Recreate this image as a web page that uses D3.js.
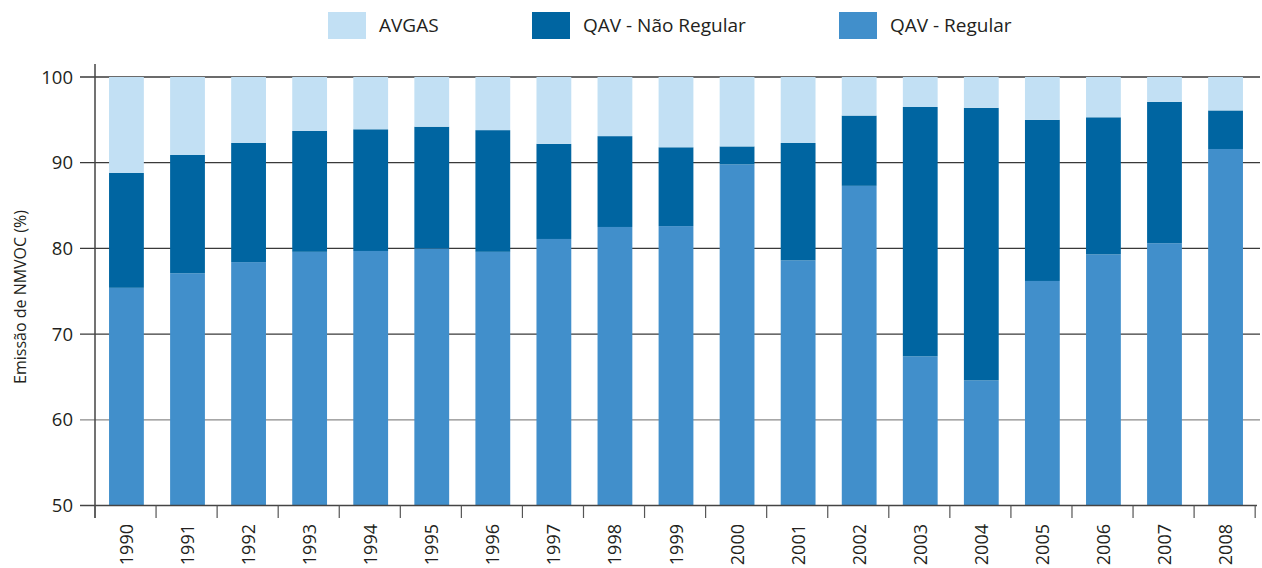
<!DOCTYPE html>
<meta charset="utf-8">
<style>
body { margin: 0; background: #fff; }
text { font-family: "Open Sans", "Noto Sans", sans-serif; fill: #231f20; }
</style>
<svg width="1262" height="568"></svg>
<script src="https://d3js.org/d3.v7.min.js"></script>
<script>

var years = ["1990","1991","1992","1993","1994","1995","1996","1997","1998","1999",
             "2000","2001","2002","2003","2004","2005","2006","2007","2008"];
// QAV - Regular share (%)
var regular = [75.4, 77.1, 78.4, 79.6, 79.7, 80.0, 79.6, 81.1, 82.5, 82.6,
               89.8, 78.6, 87.3, 67.4, 64.6, 76.2, 79.3, 80.6, 91.6];
// QAV - Nao Regular share (%)
var naoRegular = [13.4, 13.8, 13.9, 14.1, 14.2, 14.2, 14.2, 11.1, 10.6, 9.2,
                  2.1, 13.7, 8.2, 29.1, 31.8, 18.8, 16.0, 16.5, 4.5];
// AVGAS share (%)
var avgas = [11.2, 9.1, 7.7, 6.3, 6.1, 5.8, 6.2, 7.8, 6.9, 8.2,
             8.1, 7.7, 4.5, 3.5, 3.6, 5.0, 4.7, 2.9, 3.9];
var yTicks = [50, 60, 70, 80, 90, 100];

var seriesNames = ["QAV - Regular", "QAV - Não Regular", "AVGAS"];
var colors = {"QAV - Regular": "#418fcb", "QAV - Não Regular": "#0065a1", "AVGAS": "#c2e0f4"};

var table = years.map(function(y, i) {
  return {year: y, "QAV - Regular": regular[i], "QAV - Não Regular": naoRegular[i], "AVGAS": avgas[i]};
});

var svg = d3.select("svg");
var plotLeft = 95, plotRight = 1257, plotTop = 77, plotBottom = 505.5;

var x = d3.scaleBand().domain(years).range([plotLeft, plotRight]).paddingInner(0.43).paddingOuter(0.23);
var y = d3.scaleLinear().domain([50, 100]).range([plotBottom, plotTop]);

// gridlines
svg.append("g").selectAll("line")
  .data(yTicks.slice(1))
  .enter().append("line")
    .attr("x1", 80).attr("x2", 1260)
    .attr("y1", function(d) { return y(d); })
    .attr("y2", function(d) { return y(d); })
    .attr("stroke", function(d) { return d == 60 ? "#8a8a8a" : "#3a3a3a"; })
    .attr("stroke-width", 1.3);

// stacked bars
var stack = d3.stack().keys(seriesNames)(table);
svg.append("g").selectAll("g")
  .data(stack)
  .enter().append("g")
    .attr("fill", function(d) { return colors[d.key]; })
  .selectAll("rect")
  .data(function(d) { return d; })
  .enter().append("rect")
    .attr("x", function(d) { return x(d.data.year); })
    .attr("width", x.bandwidth())
    .attr("y", function(d) { return y(Math.min(d[1], 100)); })
    .attr("height", function(d) { return y(Math.max(d[0], 50)) - y(Math.min(d[1], 100)); });

// y axis
svg.append("line")
    .attr("x1", plotLeft).attr("x2", plotLeft).attr("y1", 64).attr("y2", 518)
    .attr("stroke", "#444").attr("stroke-width", 1.5);
svg.append("line")
    .attr("x1", 80).attr("x2", plotLeft).attr("y1", y(50)).attr("y2", y(50))
    .attr("stroke", "#444").attr("stroke-width", 1.5);
svg.append("g").selectAll("text")
  .data(yTicks)
  .enter().append("text")
    .attr("x", 73)
    .attr("y", function(d) { return y(d) + 6.5; })
    .attr("text-anchor", "end")
    .attr("font-size", 18.5)
    .text(function(d) { return d; });

// x axis
svg.append("line")
    .attr("x1", plotLeft).attr("x2", plotRight).attr("y1", plotBottom).attr("y2", plotBottom)
    .attr("stroke", "#444").attr("stroke-width", 1.5);
svg.append("g").selectAll("line")
  .data(d3.range(years.length + 1))
  .enter().append("line")
    .attr("x1", function(i) { return plotLeft + i * x.step(); })
    .attr("x2", function(i) { return plotLeft + i * x.step(); })
    .attr("y1", plotBottom).attr("y2", 518)
    .attr("stroke", "#555").attr("stroke-width", 1.2);
svg.append("g").selectAll("text")
  .data(years)
  .enter().append("text")
    .attr("transform", function(d) {
      return "translate(" + (x(d) + x.bandwidth() / 2 + 6.5) + ",524) rotate(-90)";
    })
    .attr("text-anchor", "end")
    .attr("font-size", 18)
    .text(function(d) { return d; });

// y label
svg.append("text")
    .attr("transform", "translate(26,297) rotate(-90)")
    .attr("text-anchor", "middle")
    .attr("font-size", 16)
    .text("Emissão de NMVOC (%)");

// legend
var legend = [["AVGAS", 328], ["QAV - Não Regular", 532], ["QAV - Regular", 839]];
var lg = svg.append("g").selectAll("g")
  .data(legend)
  .enter().append("g")
    .attr("transform", function(d) { return "translate(" + d[1] + ",12)"; });
lg.append("rect")
    .attr("width", 38).attr("height", 27)
    .attr("fill", function(d) { return colors[d[0]]; });
lg.append("text")
    .attr("x", 51).attr("y", 20)
    .attr("font-size", 19)
    .text(function(d) { return d[0]; });
</script>
